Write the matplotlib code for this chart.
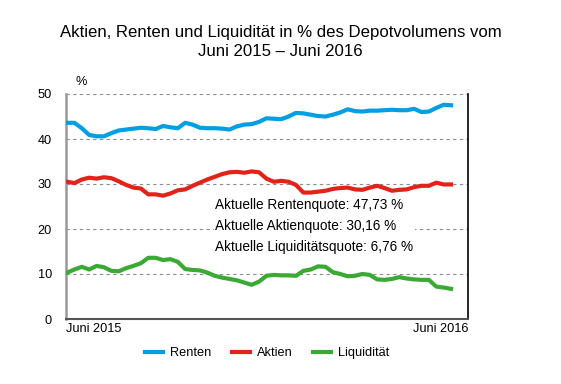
import numpy as np
import matplotlib
matplotlib.use('Agg')
import matplotlib.pyplot as plt

plt.rcParams['font.family'] = ['Liberation Sans', 'DejaVu Sans']

#Weekly values, June 2015 to June 2016
weeks = np.arange(53)
renten = [43.6, 43.6, 42.4, 40.9, 40.6, 40.6, 41.3, 41.9, 42.1, 42.3,
          42.5, 42.4, 42.2, 42.9, 42.6, 42.4, 43.6, 43.2, 42.5, 42.4,
          42.4, 42.3, 42.1, 42.8, 43.2, 43.3, 43.8, 44.6, 44.5, 44.4,
          45.0, 45.8, 45.7, 45.4, 45.1, 45.0, 45.4, 45.9, 46.6, 46.2,
          46.1, 46.3, 46.3, 46.4, 46.5, 46.4, 46.4, 46.7, 46.0, 46.1,
          46.9, 47.6, 47.5]
aktien = [30.5, 30.2, 31.0, 31.4, 31.2, 31.5, 31.3, 30.6, 29.8, 29.2,
          29.0, 27.7, 27.7, 27.4, 27.9, 28.6, 28.8, 29.6, 30.3, 31.0,
          31.6, 32.2, 32.6, 32.7, 32.5, 32.8, 32.6, 31.2, 30.5, 30.7,
          30.5, 29.8, 28.1, 28.1, 28.3, 28.5, 28.9, 29.1, 29.2, 28.8,
          28.7, 29.2, 29.6, 29.1, 28.5, 28.7, 28.8, 29.3, 29.6, 29.6,
          30.3, 29.9, 29.9]
liquiditaet = [10.3, 11.0, 11.6, 11.0, 11.8, 11.5, 10.7, 10.6, 11.3, 11.8,
               12.4, 13.6, 13.6, 13.1, 13.3, 12.7, 11.1, 10.9, 10.8, 10.3,
               9.6, 9.2, 8.9, 8.6, 8.1, 7.6, 8.3, 9.6, 9.8, 9.7,
               9.7, 9.6, 10.7, 11.0, 11.7, 11.6, 10.4, 10.0, 9.5, 9.6,
               10.0, 9.8, 8.8, 8.7, 8.9, 9.3, 9.0, 8.8, 8.7, 8.7,
               7.2, 7.0, 6.7]
quoten = ['Aktuelle Rentenquote: 47,73 %',
          'Aktuelle Aktienquote: 30,16 %',
          'Aktuelle Liquiditätsquote: 6,76 %']
xlabels = ['Juni 2015', 'Juni 2016']

fig = plt.figure(figsize=(5.61, 3.84), dpi=100)
ax = fig.add_axes([66/561, 1-319/384, (468-66)/561, (319-94)/384])

ax.plot(weeks, renten, color='#009fe3', lw=3, label='Renten', zorder=3)
ax.plot(weeks, aktien, color='#e2231a', lw=3, label='Aktien', zorder=3)
ax.plot(weeks, liquiditaet, color='#3aaa35', lw=3, label='Liquidität', zorder=3)

xmin, xmax = -0.14, 54.3
ax.set_xlim(xmin, xmax)
ax.set_ylim(0, 50)
ax.set_yticks([0, 10, 20, 30, 40, 50])
ax.tick_params(axis='y', length=0, pad=10, labelsize=9.2)
ax.set_xticks([xmin, xmax])
ax.set_xticklabels(xlabels)
ax.tick_params(axis='x', length=0, pad=3, labelsize=9.2)
ax.get_xticklabels()[0].set_ha('left')
ax.get_xticklabels()[1].set_ha('right')

for y in [10, 20, 30, 40, 50]:
    ax.axhline(y, color='#8c8c8c', lw=0.8, ls=(0, (3, 3)), zorder=1)

ax.spines['top'].set_visible(False)
ax.spines['left'].set_color('#999999')
ax.spines['left'].set_linewidth(1.8)
ax.spines['bottom'].set_color('#555555')
ax.spines['bottom'].set_linewidth(1.5)
ax.spines['right'].set_color('black')
ax.spines['right'].set_linewidth(1.2)

ax.text(10/402, 1.025, '%', transform=ax.transAxes, fontsize=9.2, ha='left', va='bottom')

txt = '\n'.join(quoten)
ax.text(20.1, 20.6, txt, fontsize=9.8, ha='left', va='center', linespacing=1.62,
        bbox=dict(facecolor='white', edgecolor='none', pad=1), zorder=2)

fig.text(0.5, 1-33/384, 'Aktien, Renten und Liquidität in % des Depotvolumens vom',
         ha='center', va='center', fontsize=12.1)
fig.text(0.5, 1-51/384, 'Juni 2015 – Juni 2016', ha='center', va='center', fontsize=12.1)

fig.legend(loc='center', bbox_to_anchor=(267/561, 1-353/384), ncol=3, frameon=False,
           fontsize=9.2, handlelength=1.4, columnspacing=1.6, handletextpad=0.55)

fig.savefig('out.png', dpi=100)
